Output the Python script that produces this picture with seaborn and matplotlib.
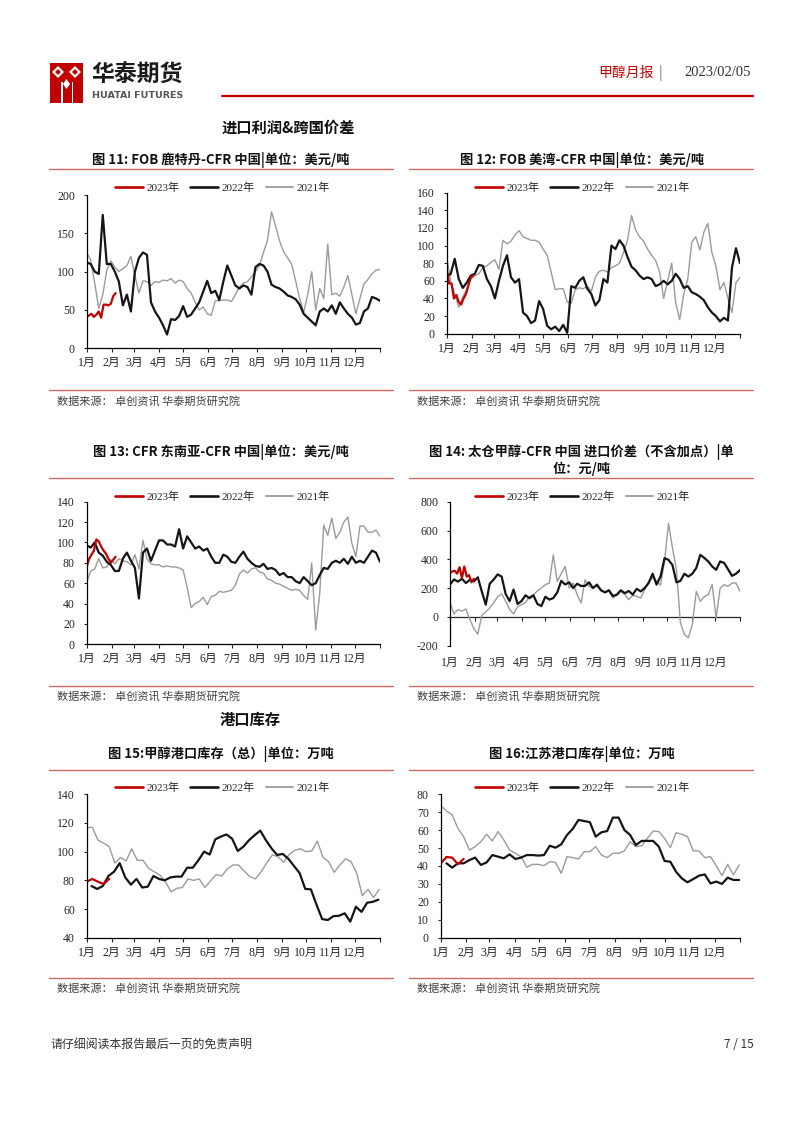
import numpy as np
import seaborn as sns
import matplotlib.pyplot as plt
from matplotlib.lines import Line2D
from matplotlib.patches import Polygon, Rectangle

W, H = 802, 1133

months = ["1月", "2月", "3月", "4月", "5月", "6月", "7月", "8月", "9月", "10月", "11月", "12月"]
month_start = [0, 31, 59, 90, 120, 151, 181, 212, 243, 273, 304, 334]
years = ["2023年", "2022年", "2021年"]

# 图11 FOB鹿特丹-CFR中国 (2021/2022 every 5 days, 2023 every 3 days)
c11_2023 = [41, 43, 45, 41, 44, 48, 40, 57, 57, 56, 58, 68, 72]
c11_2022 = [112, 110, 100, 97, 174, 110, 110, 100, 87, 56,
            70, 48, 100, 118, 125, 122, 60, 48, 40, 30,
            18, 38, 37, 42, 55, 41, 44, 52, 60, 74,
            88, 72, 75, 63, 87, 108, 95, 82, 78, 82,
            80, 70, 106, 110, 108, 100, 83, 80, 78, 74,
            69, 67, 64, 57, 45, 40, 35, 30, 48, 52,
            48, 56, 45, 60, 52, 45, 40, 31, 33, 48,
            52, 67, 65, 62]
c11_2021 = [125, 115, 85, 52, 70, 102, 114, 106, 100, 104,
            108, 120, 95, 72, 88, 87, 82, 87, 86, 89,
            88, 91, 85, 89, 87, 78, 72, 60, 50, 54,
            45, 43, 62, 62, 63, 63, 61, 70, 80, 85,
            87, 93, 100, 108, 125, 141, 178, 160, 140, 126,
            118, 110, 88, 65, 47, 70, 100, 50, 78, 65,
            136, 70, 72, 68, 80, 95, 70, 45, 65, 84,
            90, 97, 102, 103]

# 图12 FOB美湾-CFR中国
c12_2023 = [73, 57, 57, 40, 44, 36, 33, 40, 45, 55, 64, 66]
c12_2022 = [65, 68, 85, 62, 52, 58, 66, 68, 78, 77,
            62, 54, 40, 60, 77, 89, 64, 58, 62, 24,
            20, 12, 15, 37, 28, 9, 5, 8, 3, 10,
            1, 54, 52, 60, 64, 51, 45, 32, 38, 62,
            58, 100, 96, 106, 100, 87, 76, 72, 66, 62,
            64, 62, 54, 56, 60, 56, 60, 68, 62, 52,
            54, 47, 45, 42, 38, 30, 24, 20, 14, 18,
            15, 75, 97, 80]
c12_2021 = [87, 60, 45, 30, 42, 50, 62, 66, 68, 75,
            77, 81, 84, 73, 106, 102, 105, 112, 117, 110,
            108, 106, 106, 104, 96, 89, 70, 50, 51, 51,
            36, 35, 50, 52, 51, 54, 48, 64, 71, 72,
            70, 75, 77, 80, 92, 106, 134, 118, 110, 105,
            96, 89, 83, 70, 40, 60, 80, 35, 16, 45,
            62, 104, 110, 95, 115, 125, 92, 77, 50, 58,
            40, 24, 58, 64]

# 图13 CFR东南亚-CFR中国
c13_2023 = [76, 84, 88, 92, 103, 101, 96, 92, 89, 84, 80, 83, 86]
c13_2022 = [97, 95, 100, 90, 87, 81, 78, 72, 72, 84,
            90, 82, 75, 45, 90, 94, 82, 92, 102, 102,
            98, 98, 96, 113, 94, 106, 100, 94, 96, 92,
            94, 86, 80, 80, 88, 86, 81, 80, 86, 91,
            84, 80, 77, 76, 79, 74, 75, 73, 68, 70,
            66, 66, 62, 60, 66, 62, 58, 60, 68, 75,
            74, 80, 82, 80, 84, 79, 86, 80, 82, 80,
            86, 92, 90, 81]
c13_2021 = [61, 72, 74, 84, 75, 76, 83, 79, 84, 82,
            81, 78, 88, 74, 102, 84, 79, 78, 78, 76,
            77, 76, 76, 75, 73, 56, 36, 40, 42, 46,
            39, 47, 48, 52, 51, 52, 53, 58, 69, 73,
            70, 74, 75, 71, 70, 64, 63, 60, 59, 57,
            55, 53, 54, 53, 48, 44, 80, 14, 50, 117,
            107, 124, 104, 110, 120, 125, 99, 86, 116, 116,
            110, 110, 112, 106]

# 图14 太仓甲醇-CFR中国 进口价差
c14_2023 = [305, 316, 320, 300, 345, 270, 350, 280, 290, 240, 265]
c14_2022 = [225, 260, 245, 265, 235, 258, 247, 275, 177, 85,
            230, 260, 295, 280, 160, 110, 190, 90, 110, 150,
            130, 150, 90, 75, 140, 120, 131, 170, 250, 225,
            240, 200, 230, 215, 215, 240, 200, 224, 185, 170,
            185, 145, 155, 185, 165, 180, 155, 195, 177, 200,
            235, 300, 224, 281, 408, 396, 360, 240, 250, 300,
            280, 300, 340, 431, 410, 385, 350, 327, 385, 375,
            330, 285, 300, 325]
c14_2021 = [100, 20, 51, 40, 55, -18, -80, -120, 10, 35,
            62, 100, 140, 160, 110, 51, 20, 70, 85, 100,
            140, 154, 180, 200, 224, 235, 431, 247, 300, 350,
            200, 235, 154, 97, 258, 212, 200, 215, 189, 170,
            180, 131, 150, 177, 154, 120, 150, 143, 131, 190,
            247, 270, 250, 220, 385, 650, 480, 327, -41, -122,
            -145, -53, 177, 108, 140, 154, 224, -7, 200, 224,
            212, 235, 235, 177]

# 图15 甲醇港口库存（总）weekly
c15_2023 = [79, 81, 79, 77.5, 81]
c15_2022 = [76, 74, 76, 83, 86, 92, 82, 77, 81, 75, 75.6, 83, 81, 80, 82, 82.6,
            82.6, 88.8, 88.8, 94, 100, 98, 108.6, 110.5, 112, 109, 100.5, 103.5,
            108, 111.5, 114.7, 108, 102.3, 97.7, 98.4, 95, 90, 85, 74, 73.7, 63,
            53, 52.3, 55, 55.3, 57, 51.2, 61.6, 58, 64.4, 65, 66.5]
c15_2021 = [116.7, 117, 108, 106, 103.5, 92, 96, 93.5, 102, 94, 94, 88.4, 86,
            83.7, 79, 72, 74.4, 75, 81, 80, 81, 75, 79.5, 84, 83, 88, 90.7, 90.7,
            86.5, 82.6, 81, 86, 92, 97.7, 96.5, 92.6, 98, 101, 102, 100, 100.5,
            107.4, 96, 93, 85.6, 90.7, 95, 93, 85, 69.3, 73.7, 68, 73.7]

# 图16 江苏港口库存 weekly
c16_2023 = [41.5, 45, 44.7, 41, 44]
c16_2022 = [41.5, 39.1, 41.5, 41.5, 43.3, 44.7, 40.6, 42, 46.1, 45.2, 44.3, 46.5,
            43.9, 44.7, 46.1, 46.1, 45.8, 46.1, 51.3, 50.2, 52.1, 57.3, 60.7, 65.7,
            65.1, 64.4, 56.4, 58.8, 59.5, 67, 67, 60.1, 57.3, 51.7, 54, 54, 54,
            50.8, 42.8, 42.4, 36.8, 33.1, 30.9, 32.7, 34.6, 35.3, 30.3, 31.3, 30,
            33.5, 32.2, 32.2]
c16_2021 = [73.7, 70.7, 68.5, 61, 56.4, 48.9, 50.8, 53.6, 57.7, 54, 59.2, 54.5,
            48.9, 47.1, 45.2, 39.3, 40.9, 40.9, 40.2, 42.4, 42, 35.9, 45.2, 44.7,
            43.9, 48, 48, 50.8, 46.1, 44.7, 47.1, 47.1, 48.4, 53.6, 50.8, 51.3,
            55.4, 59.5, 59.2, 55.4, 50.2, 58.6, 57.7, 56.4, 48.4, 48.4, 44.7, 45.2,
            40.2, 34.6, 40.9, 35, 40.6]

titles = ["图 11: FOB 鹿特丹-CFR 中国|单位：美元/吨",
          "图 12: FOB 美湾-CFR 中国|单位：美元/吨",
          "图 13: CFR 东南亚-CFR 中国|单位：美元/吨",
          "图 14: 太仓甲醇-CFR 中国 进口价差（不含加点）|单",
          "图 15:甲醇港口库存（总）|单位：万吨",
          "图 16:江苏港口库存|单位：万吨"]
source = "数据来源： 卓创资讯 华泰期货研究院"

sns.set_style("ticks")
plt.rcParams['font.family'] = ['Noto Sans CJK SC', 'DejaVu Sans']
plt.rcParams['axes.unicode_minus'] = False
SERIF = ['Liberation Serif', 'Noto Sans CJK SC']

RED = '#c00000'
BLACK = '#151515'
GREY = '#9b9b9b'
RULE = '#cf6a66'

fig = plt.figure(figsize=(W / 100, H / 100), dpi=100)


def fx(px):
    return px / W


def fy(py):
    return 1 - py / H


def hline(x0, x1, y, color, lw):
    fig.add_artist(Line2D([fx(x0), fx(x1)], [fy(y), fy(y)], transform=fig.transFigure,
                          color=color, lw=lw))


def days(vals, step, start=0):
    return np.arange(len(vals)) * step + start


def panel(box, ylim, ystep, data, leg_xy, zero_axis=False):
    x0, top, x1, bottom = box
    ax = fig.add_axes([fx(x0), fy(bottom), (x1 - x0) / W, (bottom - top) / H])
    styles = {"2021年": (GREY, 1.0), "2022年": (BLACK, 1.6), "2023年": (RED, 1.6)}
    for lab in ["2021年", "2022年", "2023年"]:
        xs, ys = data[lab]
        col, lw = styles[lab]
        sns.lineplot(x=xs, y=ys, ax=ax, color=col, linewidth=lw, legend=False)
    ax.set_xlim(0, 365)
    ax.set_ylim(*ylim)
    ax.set_yticks(np.arange(ylim[0], ylim[1] + ystep / 2, ystep))
    ax.set_xticks(month_start + [365])
    ax.set_xticklabels(months + [""])
    ax.set_xlabel("")
    ax.set_ylabel("")
    for s in ["top", "right"]:
        ax.spines[s].set_visible(False)
    for s in ["left", "bottom"]:
        ax.spines[s].set_color("black")
        ax.spines[s].set_linewidth(0.9)
    ax.tick_params(axis="y", direction="out", length=2.5, width=0.8, pad=6, labelsize=8.5)
    ax.tick_params(axis="x", direction="out", length=3, width=0.8, pad=3.5, labelsize=8.5)
    for t in ax.get_xticklabels() + ax.get_yticklabels():
        t.set_fontfamily(SERIF)
    if zero_axis:
        ax.spines["bottom"].set_visible(False)
        ax.tick_params(axis="x", length=0, pad=8)
        frac = (0 - ylim[0]) / (ylim[1] - ylim[0])
        sec = ax.secondary_xaxis(frac)
        sec.set_xticks(month_start + [365])
        sec.set_xticklabels([])
        sec.tick_params(direction="out", length=3, width=0.8)
        sec.spines["bottom"].set_linewidth(0.9)
    handles = [Line2D([], [], color=styles[y][0], lw=styles[y][1] + 0.3) for y in years]
    ax.legend(handles, years, ncol=3, loc="center", bbox_to_anchor=(fx(leg_xy[0]), fy(leg_xy[1])),
              bbox_transform=fig.transFigure, frameon=False, handlelength=2.5,
              handletextpad=0.3, columnspacing=1.0,
              prop={"family": SERIF, "size": 8})
    return ax


# header
fig.add_artist(Rectangle((fx(50), fy(103)), 33 / W, 40 / H, transform=fig.transFigure,
                         color=RED, lw=0))
for cx in (58, 75):
    fig.add_artist(Polygon([(fx(cx - 6), fy(72)), (fx(cx), fy(66)), (fx(cx + 6), fy(72)),
                            (fx(cx), fy(78))], closed=True, transform=fig.transFigure,
                           color="white", lw=0))
    fig.add_artist(Polygon([(fx(cx - 3), fy(72)), (fx(cx), fy(69)), (fx(cx + 3), fy(72)),
                            (fx(cx), fy(75))], closed=True, transform=fig.transFigure,
                           color=RED, lw=0))
for sx in (61, 71.5):
    fig.add_artist(Rectangle((fx(sx), fy(103)), 1.6 / W, 21 / H, transform=fig.transFigure,
                             color="white", lw=0))
fig.add_artist(Polygon([(fx(63), fy(84)), (fx(66.5), fy(79)), (fx(70), fy(84)),
                        (fx(66.5), fy(89))], closed=True, transform=fig.transFigure,
                       color="white", lw=0))
fig.text(fx(91), fy(75), "华泰期货", fontsize=16.5, fontweight="bold", color="#1a1a1a",
         va="center", ha="left")
fig.text(fx(92), fy(96), "HUATAI FUTURES", fontsize=6.8, fontweight="bold", color="#555555",
         va="center", ha="left", family=["DejaVu Sans"])
fig.text(fx(598), fy(73), "甲醇月报", fontsize=10, color=RED, va="center", ha="left")
fig.text(fx(659), fy(73), "|", fontsize=10, color="#777777", va="center", ha="left")
fig.text(fx(751), fy(73), "2023/02/05", fontsize=10.5, color="#333333", va="center", ha="right",
         family=SERIF)
hline(222, 753, 96, RED, 1.6)

fig.text(fx(222), fy(128), "进口利润&跨国价差", fontsize=11, fontweight="bold", va="center",
         ha="left", color="#111111")
fig.text(fx(220), fy(720), "港口库存", fontsize=11, fontweight="bold", va="center",
         ha="left", color="#111111")

# chart frames: title y, title rule y, bottom rule y, source y
rows = [(160, 169, 390, 401), (452, 477.7, 685.7, 696), (754.5, 770, 977.7, 988.5)]
cols = [(49, 393, 221, 57), (409, 753, 581.7, 417)]
for r, (ty, ry, by, sy) in enumerate(rows):
    for c, (lx, rx, cx, sx) in enumerate(cols):
        k = r * 2 + c
        fig.text(fx(cx), fy(ty), titles[k], fontsize=9.5, fontweight="bold", ha="center",
                 va="center", color="#111111")
        hline(lx, rx, ry, RULE, 1.0)
        hline(lx, rx, by, RULE, 1.0)
        fig.text(fx(sx), fy(sy), source, fontsize=8, color="#404040", ha="left", va="center")
fig.text(fx(581.7), fy(468.5), "位：元/吨", fontsize=9.5, fontweight="bold", ha="center",
         va="center", color="#111111")

panel((86.7, 195, 380, 348.3), (0, 200), 50,
      {"2023年": (days(c11_2023, 3), c11_2023), "2022年": (days(c11_2022, 5), c11_2022),
       "2021年": (days(c11_2021, 5), c11_2021)}, (222.5, 188))
panel((446.7, 192.7, 740, 333.7), (0, 160), 20,
      {"2023年": (days(c12_2023, 3), c12_2023), "2022年": (days(c12_2022, 5), c12_2022),
       "2021年": (days(c12_2021, 5), c12_2021)}, (582.5, 188))
panel((86.7, 501.7, 380, 644.3), (0, 140), 20,
      {"2023年": (days(c13_2023, 3), c13_2023), "2022年": (days(c13_2022, 5), c13_2022),
       "2021年": (days(c13_2021, 5), c13_2021)}, (222.5, 496.7))
panel((450, 501.7, 740, 645.7), (-200, 800), 200,
      {"2023年": (days(c14_2023, 3), c14_2023), "2022年": (days(c14_2022, 5), c14_2022),
       "2021年": (days(c14_2021, 5), c14_2021)}, (582.5, 496.7), zero_axis=True)
panel((86.7, 794.3, 380, 937.7), (40, 140), 20,
      {"2023年": (days(c15_2023, 7), c15_2023), "2022年": (days(c15_2022, 7, 6), c15_2022),
       "2021年": (days(c15_2021, 7), c15_2021)}, (222.5, 788))
panel((440.7, 794.3, 740, 937.7), (0, 80), 10,
      {"2023年": (days(c16_2023, 7), c16_2023), "2022年": (days(c16_2022, 7, 7), c16_2022),
       "2021年": (days(c16_2021, 7), c16_2021)}, (582.5, 788))

fig.text(fx(51), fy(1045), "请仔细阅读本报告最后一页的免责声明", fontsize=8.6, color="#333333",
         ha="left", va="center")
fig.text(fx(754), fy(1045), "7 / 15", fontsize=8.6, color="#333333", ha="right", va="center")

fig.savefig("out.png", dpi=100)
